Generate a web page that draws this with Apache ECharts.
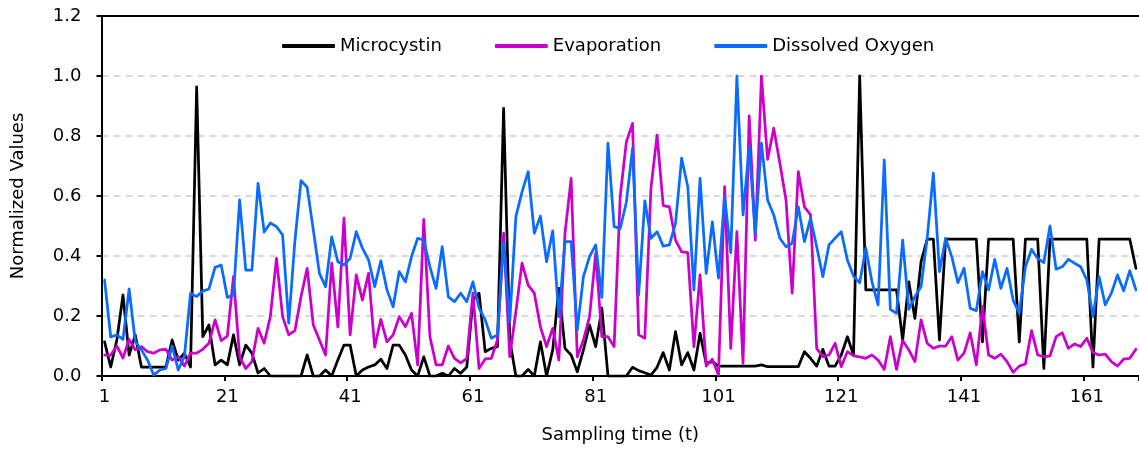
<!DOCTYPE html>
<html>
<head>
<meta charset="utf-8">
<script src="https://cdn.jsdelivr.net/npm/echarts@6/dist/echarts.min.js"></script>
<style>
html,body{margin:0;padding:0;background:#fff;}
#chart{width:1139px;height:450px;}
</style>
</head>
<body>
<div id="chart"></div>
<script>
// Sampling time categories 1..169
var categories = [];
for (var i = 1; i <= 169; i++) categories.push(String(i));

var microcystin = [
0.114,0.03,0.12,0.27,0.07,0.137,0.03,0.03,0.03,0.03,
0.03,0.12,0.053,0.076,0.03,0.964,0.131,0.17,0.037,0.053,
0.037,0.137,0.037,0.103,0.076,0.01,0.025,0.0,0.0,0.0,
0.0,0.0,0.0,0.07,0.0,0.0,0.02,0.0,0.053,0.103,
0.103,0.0,0.02,0.03,0.037,0.056,0.025,0.103,0.103,0.07,
0.02,0.0,0.064,0.0,0.0,0.009,0.0,0.025,0.009,0.03,
0.253,0.276,0.081,0.092,0.098,0.892,0.12,0.0,0.0,0.022,
0.0,0.114,0.0,0.087,0.292,0.092,0.07,0.014,0.087,0.17,
0.098,0.226,0.0,0.0,0.0,0.0,0.029,0.018,0.011,0.003,
0.029,0.078,0.02,0.148,0.037,0.078,0.02,0.142,0.042,0.048,
0.033,0.033,0.033,0.033,0.033,0.033,0.033,0.037,0.031,0.031,
0.031,0.031,0.031,0.031,0.081,0.059,0.033,0.089,0.033,0.033,
0.07,0.131,0.07,1.0,0.287,0.287,0.287,0.287,0.287,0.287,
0.12,0.314,0.192,0.381,0.456,0.456,0.12,0.456,0.456,0.456,
0.456,0.456,0.456,0.114,0.456,0.456,0.456,0.456,0.456,0.114,
0.456,0.456,0.456,0.025,0.456,0.456,0.456,0.456,0.456,0.456,
0.456,0.03,0.456,0.456,0.456,0.456,0.456,0.456,0.359
];

var evaporation = [
0.07,0.07,0.10,0.06,0.122,0.087,0.098,0.081,0.076,0.087,
0.089,0.053,0.064,0.033,0.076,0.076,0.089,0.109,0.187,0.118,
0.133,0.331,0.064,0.025,0.048,0.159,0.109,0.198,0.392,0.198,
0.137,0.151,0.264,0.359,0.17,0.12,0.07,0.376,0.164,0.526,
0.137,0.337,0.253,0.342,0.096,0.189,0.114,0.137,0.198,0.164,
0.209,0.037,0.522,0.131,0.037,0.037,0.1,0.059,0.044,0.059,
0.276,0.025,0.057,0.059,0.12,0.476,0.064,0.214,0.376,0.303,
0.276,0.164,0.098,0.159,0.053,0.476,0.659,0.064,0.12,0.198,
0.409,0.131,0.131,0.098,0.6,0.781,0.842,0.137,0.126,0.626,
0.803,0.568,0.564,0.453,0.414,0.411,0.098,0.337,0.033,0.056,
0.003,0.631,0.092,0.481,0.042,0.867,0.453,1.0,0.722,0.826,
0.709,0.587,0.276,0.681,0.564,0.537,0.092,0.064,0.07,0.109,
0.031,0.081,0.067,0.064,0.059,0.07,0.053,0.022,0.131,0.022,
0.118,0.087,0.048,0.187,0.109,0.092,0.1,0.1,0.131,0.053,
0.076,0.144,0.037,0.231,0.07,0.059,0.073,0.048,0.012,0.033,
0.04,0.151,0.07,0.064,0.067,0.131,0.144,0.092,0.107,0.098,
0.126,0.078,0.07,0.073,0.048,0.033,0.056,0.059,0.089
];

var dissolvedOxygen = [
0.32,0.13,0.137,0.122,0.29,0.115,0.087,0.053,0.003,0.02,
0.025,0.10,0.02,0.065,0.275,0.265,0.283,0.29,0.362,0.37,
0.262,0.27,0.587,0.353,0.353,0.642,0.48,0.51,0.498,0.47,
0.176,0.45,0.651,0.629,0.487,0.342,0.298,0.464,0.381,0.37,
0.392,0.481,0.426,0.387,0.298,0.384,0.287,0.231,0.348,0.314,
0.398,0.459,0.453,0.364,0.292,0.431,0.264,0.248,0.276,0.248,
0.314,0.226,0.187,0.126,0.137,0.442,0.181,0.531,0.614,0.681,
0.476,0.533,0.381,0.484,0.198,0.448,0.448,0.153,0.331,0.398,
0.437,0.262,0.776,0.498,0.492,0.58,0.759,0.27,0.584,0.459,
0.481,0.433,0.437,0.509,0.726,0.631,0.287,0.659,0.342,0.514,
0.326,0.598,0.411,1.0,0.537,0.762,0.476,0.776,0.587,0.537,
0.459,0.431,0.442,0.564,0.448,0.526,0.431,0.331,0.437,0.459,
0.481,0.387,0.333,0.311,0.426,0.314,0.237,0.72,0.222,0.209,
0.453,0.222,0.264,0.298,0.459,0.676,0.348,0.459,0.398,0.311,
0.359,0.226,0.218,0.348,0.287,0.389,0.292,0.359,0.253,0.209,
0.364,0.422,0.392,0.378,0.5,0.356,0.364,0.389,0.376,0.364,
0.32,0.198,0.331,0.237,0.276,0.337,0.284,0.351,0.287
];

var seriesNames = ['Microcystin', 'Evaporation', 'Dissolved Oxygen'];
var seriesColors = ['#000000', '#CC00CC', '#0A6CFF'];

var FONT = "'Century Gothic', 'DejaVu Sans', sans-serif";
var chart = echarts.init(document.getElementById('chart'), null, {renderer: 'canvas'});

var values = [microcystin, evaporation, dissolvedOxygen];
var series = values.map(function (v, k) {
  return {
    name: seriesNames[k],
    type: 'line',
    data: v,
    showSymbol: false,
    symbol: 'none',
    lineStyle: {width: 2.75, color: seriesColors[k], join: 'round', cap: 'round'},
    itemStyle: {color: seriesColors[k]},
    z: 2 + k
  };
});

chart.setOption({
  animation: false,
  backgroundColor: '#ffffff',
  textStyle: {fontFamily: FONT},
  legend: {
    data: seriesNames,
    left: 277,
    top: 32,
    itemWidth: 53,
    itemHeight: 4,
    itemGap: 53,
    icon: 'roundRect',
    textStyle: {fontFamily: FONT, fontSize: 18, color: '#000'}
  },
  grid: {left: 101.5, top: 16, width: 1039, bottom: 74, containLabel: false},
  xAxis: [{
    type: 'category',
    data: categories,
    boundaryGap: true,
    name: 'Sampling time (t)',
    nameLocation: 'middle',
    nameGap: 50,
    nameTextStyle: {fontFamily: FONT, fontSize: 18, color: '#000'},
    axisLine: {show: true, lineStyle: {color: '#000', width: 2}},
    axisTick: {show: true, interval: 19, length: 5, lineStyle: {color: '#000', width: 2}},
    axisLabel: {interval: 19, margin: 12, fontFamily: FONT, fontSize: 18, color: '#000'},
    splitLine: {show: false}
  }, {
    type: 'value',
    position: 'top',
    min: 0, max: 1,
    axisLine: {show: true, onZero: false, lineStyle: {color: '#000', width: 2}},
    axisTick: {show: false},
    axisLabel: {show: false},
    splitLine: {show: false}
  }],
  yAxis: {
    type: 'value',
    min: 0,
    max: 1.2,
    interval: 0.2,
    name: 'Normalized Values',
    nameLocation: 'middle',
    nameGap: 74,
    nameRotate: 90,
    nameTextStyle: {fontFamily: FONT, fontSize: 18, color: '#000'},
    axisLine: {show: true, lineStyle: {color: '#000', width: 2}},
    axisTick: {show: true, length: 5, lineStyle: {color: '#000', width: 2}},
    axisLabel: {
      margin: 20, fontFamily: FONT, fontSize: 18, color: '#000',
      formatter: function (v) { return v.toFixed(1); }
    },
    splitLine: {show: true, lineStyle: {color: '#d9d9d9', width: 2, type: [7, 5]}}
  },
  series: series
});
</script>
</body>
</html>
